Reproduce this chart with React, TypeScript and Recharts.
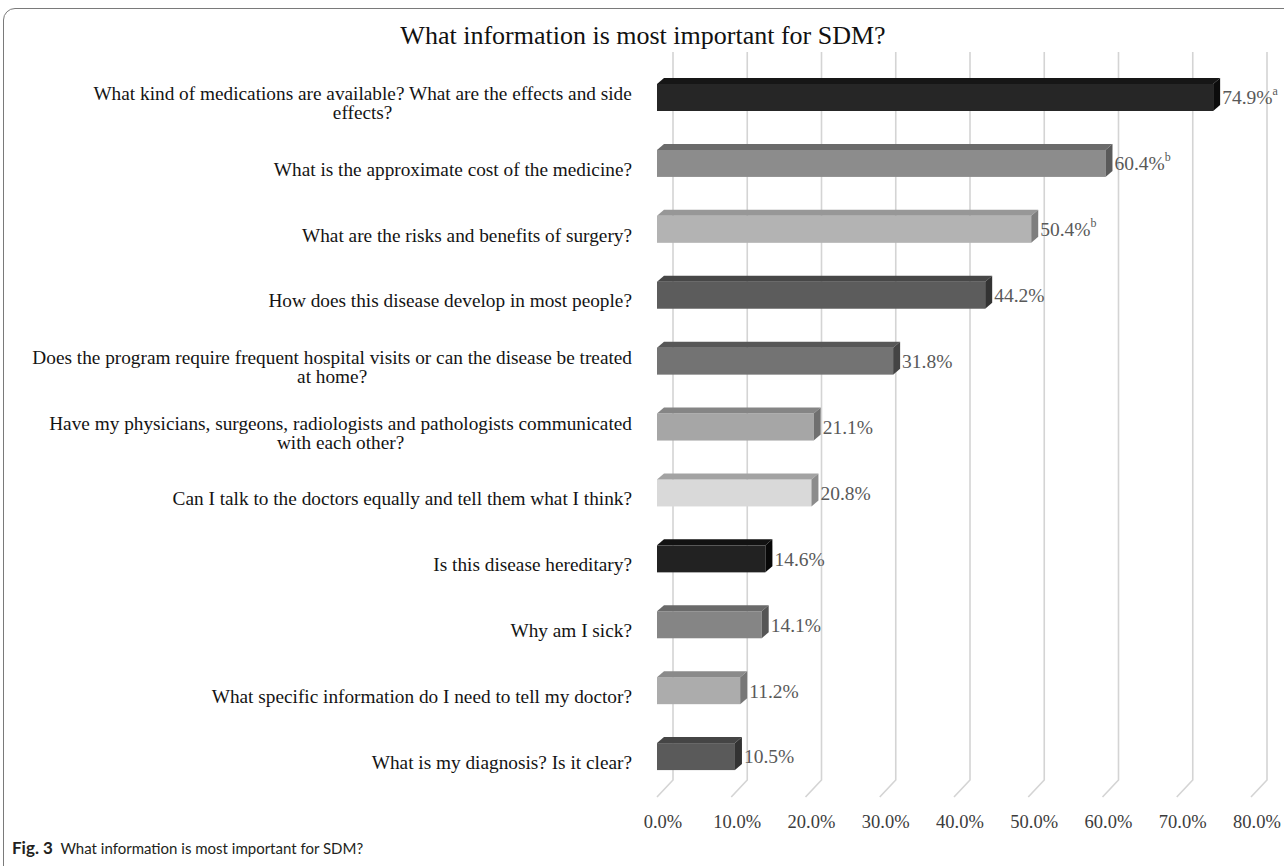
import { BarChart, Bar, XAxis, YAxis, CartesianGrid } from "recharts";

const categories = [
  "What kind of medications are available? What are the effects and side\neffects?",
  "What is the approximate cost of the medicine?",
  "What are the risks and benefits of surgery?",
  "How does this disease develop in most people?",
  "Does the program require frequent hospital visits or can the disease be treated\nat home?",
  "Have my physicians, surgeons, radiologists and pathologists communicated\nwith each other?",
  "Can I talk to the doctors equally and tell them what I think?",
  "Is this disease hereditary?",
  "Why am I sick?",
  "What specific information do I need to tell my doctor?",
  "What is my diagnosis? Is it clear?",
];
const percentages = [74.9, 60.4, 50.4, 44.2, 31.8, 21.1, 20.8, 14.6, 14.1, 11.2, 10.5];
const notes = ["a", "b", "b", "", "", "", "", "", "", "", ""];
const xTicks = [0, 10, 20, 30, 40, 50, 60, 70, 80];

// face colours of the 3D bars (front / top / right side)
const frontColors = ["#262626", "#8c8c8c", "#b3b3b3", "#5c5c5c", "#737373", "#a6a6a6", "#d9d9d9", "#222222", "#858585", "#acacac", "#5a5a5a"];
const topColors = ["#161616", "#6b6b6b", "#979797", "#474747", "#575757", "#858585", "#a3a3a3", "#121212", "#6a6a6a", "#8a8a8a", "#454545"];
const sideColors = ["#0c0c0c", "#5a5a5a", "#7e7e7e", "#333333", "#444444", "#707070", "#8c8c8c", "#080808", "#555555", "#777777", "#333333"];

const SERIF = '"Liberation Serif", "Times New Roman", serif';
const DX = 7; // bar depth, horizontal
const DY = 6; // bar depth, vertical
const LABEL_RIGHT = 632;
const CAT_SIZE = 19.3;
const TICK_Y = 822;

const rows = categories.map((c, i) => ({ category: c, value: percentages[i], note: notes[i] }));

let ctx: CanvasRenderingContext2D | null = null;
function textWidth(s: string, font: string) {
  if (!ctx) ctx = document.createElement("canvas").getContext("2d");
  if (!ctx) return s.length * 8;
  ctx.font = font;
  return ctx.measureText(s).width;
}

function CategoryTick(props: any) {
  const { y, payload } = props;
  const lines = String(payload.value).split("\n");
  const w = Math.max(...lines.map((l) => textWidth(l, `${CAT_SIZE}px "Liberation Serif"`)));
  const cx = LABEL_RIGHT - w / 2;
  const lh = 19.5;
  const y0 = y + 5 - ((lines.length - 1) * lh) / 2;
  return (
    <text textAnchor="middle" fontFamily={SERIF} fontSize={CAT_SIZE} fill="#141414">
      {lines.map((l, i) => (
        <tspan key={i} x={cx} y={y0 + i * lh} dy="0.35em">
          {l}
        </tspan>
      ))}
    </text>
  );
}

function PercentTick(props: any) {
  const { x, payload } = props;
  return (
    <text x={x + 6} y={TICK_Y} dy="0.35em" textAnchor="middle" fontFamily={SERIF} fontSize={18.5} fill="#3c3c3c">
      {Number(payload.value).toFixed(1)}%
    </text>
  );
}

function GridLine(props: any) {
  const { x1, y1, y2 } = props;
  return (
    <path
      d={`M${x1 + 16},${y1 - 13}V${y2 - 10}L${x1},${y2 + 7}`}
      stroke="#d4d4d4"
      strokeWidth={1.6}
      fill="none"
    />
  );
}

function Bar3D(props: any) {
  const { x, y, width, height, index, payload } = props;
  const r = x + width;
  return (
    <g>
      <rect x={x} y={y} width={width} height={height} fill={frontColors[index]} />
      <path d={`M${x},${y}L${x + DX},${y - DY}H${r + DX}L${r},${y}Z`} fill={topColors[index]} />
      <path d={`M${r},${y}L${r + DX},${y - DY}V${y + height - DY}L${r},${y + height}Z`} fill={sideColors[index]} />
      <text x={r + DX + 2} y={y + height / 2} dy="0.35em" fontFamily={SERIF} fontSize={19.5} fill="#595959">
        {payload.value.toFixed(1)}%
        {payload.note ? (
          <tspan fontSize={12} dy="-0.8em">
            {payload.note}
          </tspan>
        ) : null}
      </text>
    </g>
  );
}

export default function App() {
  return (
    <div style={{ position: "absolute", left: 0, top: 0, width: 1284, height: 866, overflow: "hidden", background: "#fff" }}>
      <div
        style={{
          position: "absolute",
          left: 3,
          top: 8,
          width: 1320,
          height: 900,
          border: "1.5px solid #7a7a7a",
          borderRadius: 12,
        }}
      />
      <div
        style={{
          position: "absolute",
          left: 0,
          width: 1286,
          top: 21,
          textAlign: "center",
          fontFamily: SERIF,
          fontSize: 26,
          lineHeight: "30px",
          color: "#111",
        }}
      >
        What information is most important for SDM?
      </div>
      <div style={{ position: "absolute", left: 0, top: 0 }}>
        <BarChart
          width={1284}
          height={866}
          data={rows}
          layout="vertical"
          margin={{ top: 65, right: 33, bottom: 0, left: 0 }}
        >
          <CartesianGrid horizontal={false} vertical={GridLine} />
          <XAxis
            type="number"
            domain={[0, 80]}
            ticks={xTicks}
            height={76}
            axisLine={false}
            tickLine={false}
            tick={PercentTick}
          />
          <YAxis
            type="category"
            dataKey="category"
            width={657}
            axisLine={false}
            tickLine={false}
            interval={0}
            tick={CategoryTick}
          />
          <Bar dataKey="value" barSize={27} isAnimationActive={false} shape={Bar3D} />
        </BarChart>
      </div>
      <div
        style={{
          position: "absolute",
          left: 12,
          top: 838,
          fontFamily: "Lato, sans-serif",
          fontSize: 15,
          lineHeight: "20px",
          color: "#231f20",
        }}
      >
        <b style={{ fontSize: 17 }}>Fig. 3</b>&nbsp; What information is most important for SDM?
      </div>
    </div>
  );
}
